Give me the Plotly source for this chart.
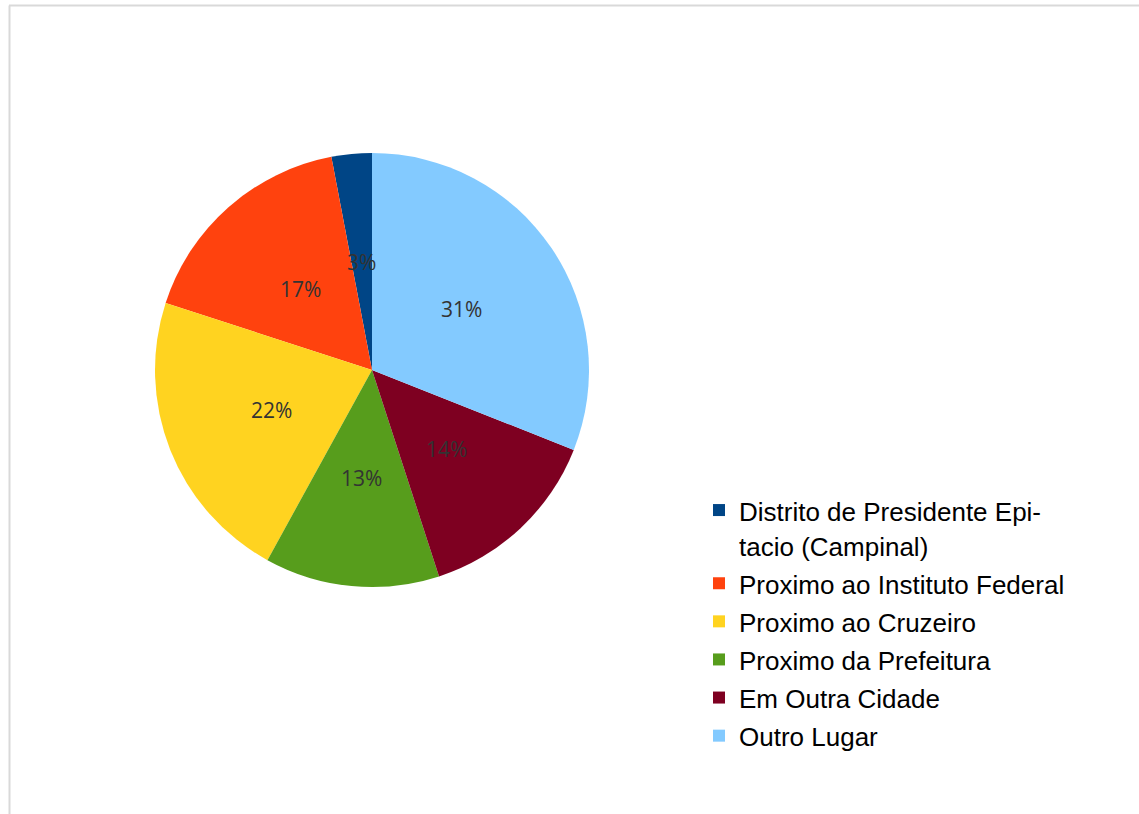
import math
import plotly.graph_objects as go

# Onde mora: distribuição das respostas (%)
labels = [
    "Distrito de Presidente Epi-<br>tacio (Campinal)",
    "Proximo ao Instituto Federal",
    "Proximo ao Cruzeiro",
    "Proximo da Prefeitura",
    "Em Outra Cidade",
    "Outro Lugar",
]
values = [3, 17, 22, 13, 14, 31]
colors = ["#004586", "#ff420e", "#ffd320", "#579d1c", "#7e0021", "#83caff"]

W, H = 1139, 814
# pie placement in pixels (centre and radius)
cx, cy, R = 372, 370, 217

total = sum(values)
# counterclockwise pies in plotly start after the first slice; shift so the
# first slice begins exactly at 12 o'clock
start_rot = -values[0] / total * 360

fig = go.Figure()
fig.add_trace(go.Pie(
    labels=[f'<span style="font-size:26px">{l}</span>' for l in labels],
    values=values,
    marker=dict(colors=colors, line=dict(width=0)),
    sort=False,
    direction="counterclockwise",
    rotation=start_rot,
    textinfo="none",
    hoverinfo="label+percent",
    domain=dict(x=[(cx - R) / W, (cx + R) / W],
                y=[1 - (cy + R) / H, 1 - (cy - R) / H]),
))

# percentage labels at half radius along each slice's mid angle
acc = 0.0
for v in values:
    mid = (acc + v / 2) / total * 2 * math.pi
    acc += v
    ang = math.pi / 2 + mid  # counterclockwise from 12 o'clock
    px = cx + 0.5 * R * math.cos(ang)
    py = cy - 0.5 * R * math.sin(ang)
    fig.add_annotation(
        x=px / W, y=1 - py / H, xref="paper", yref="paper",
        xanchor="center", yanchor="middle",
        text=f"{round(v / total * 100)}%", showarrow=False,
        font=dict(family="Open Sans", size=21, color="#333333"),
    )

# frame lines
fig.add_shape(type="line", xref="paper", yref="paper",
              x0=9 / W, x1=1, y0=1 - 5.5 / H, y1=1 - 5.5 / H,
              line=dict(color="#d9d9d9", width=2))
fig.add_shape(type="line", xref="paper", yref="paper",
              x0=9.5 / W, x1=9.5 / W, y0=0, y1=1 - 5.5 / H,
              line=dict(color="#d9d9d9", width=2))

fig.update_layout(
    width=W, height=H,
    margin=dict(l=0, r=0, t=0, b=0),
    paper_bgcolor="white",
    plot_bgcolor="white",
    showlegend=True,
    legend=dict(
        x=699 / W, xanchor="left",
        y=1 - 486 / H, yanchor="top",
        font=dict(family="Liberation Sans", size=27, color="#000000"),
        valign="top",
        bgcolor="rgba(0,0,0,0)",
    ),
)

fig.write_html("out.html")
